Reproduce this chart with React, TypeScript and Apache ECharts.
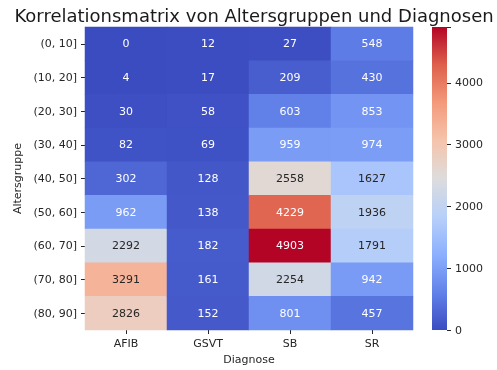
import React, { useEffect, useRef } from "react";
import * as echarts from "echarts";

const diagnoses = ["AFIB", "GSVT", "SB", "SR"];
const ageGroups = ["(0, 10]", "(10, 20]", "(20, 30]", "(30, 40]", "(40, 50]", "(50, 60]", "(60, 70]", "(70, 80]", "(80, 90]"];
const afib = [0, 4, 30, 82, 302, 962, 2292, 3291, 2826];
const gsvt = [12, 17, 58, 69, 128, 138, 182, 161, 152];
const sb = [27, 209, 603, 959, 2558, 4229, 4903, 2254, 801];
const sr = [548, 430, 853, 974, 1627, 1936, 1791, 942, 457];
const colorbarTicks = [0, 1000, 2000, 3000, 4000];
const vmin = 0;
const vmax = 4903;

const coolwarm = ["#3b4cc0", "#6282ea", "#8db0fe", "#b8d0f9", "#dddcdc", "#f5c4ac", "#f49a7b", "#de604d", "#b40426"];

function hexToRgb(h: string) {
  return [parseInt(h.slice(1, 3), 16), parseInt(h.slice(3, 5), 16), parseInt(h.slice(5, 7), 16)];
}

function colorAt(v: number) {
  const t = Math.max(0, Math.min(1, (v - vmin) / (vmax - vmin)));
  const pos = t * (coolwarm.length - 1);
  const i = Math.min(coolwarm.length - 2, Math.floor(pos));
  const f = pos - i;
  const a = hexToRgb(coolwarm[i]);
  const b = hexToRgb(coolwarm[i + 1]);
  return a.map((c, k) => c + (b[k] - c) * f);
}

function luminance(rgb: number[]) {
  const lin = rgb.map((c) => {
    const s = c / 255;
    return s <= 0.03928 ? s / 12.92 : Math.pow((s + 0.055) / 1.055, 2.4);
  });
  return 0.2126 * lin[0] + 0.7152 * lin[1] + 0.0722 * lin[2];
}

export default function App() {
  const ref = useRef<HTMLDivElement>(null);
  useEffect(() => {
    if (!ref.current) return;
    const chart = echarts.init(ref.current, null, { renderer: "svg" });
    const cols = [afib, gsvt, sb, sr];
    const data: any[] = [];
    cols.forEach((col, x) => {
      col.forEach((v, y) => {
        const lum = luminance(colorAt(v));
        data.push({
          value: [x, y, v],
          label: { color: lum > 0.408 ? "#262626" : "#ffffff" },
        });
      });
    });
    const font = "DejaVu Sans";
    const textColor = "#262626";
    const n = coolwarm.length - 1;
    const barStops = coolwarm.map((_, i) => ({ offset: i / n, color: coolwarm[n - i] }));
    chart.setOption({
      animation: false,
      textStyle: { fontFamily: font },
      title: {
        text: "Korrelationsmatrix von Altersgruppen und Diagnosen",
        left: 249,
        textAlign: "center",
        top: 1,
        textStyle: { fontFamily: font, fontSize: 18, fontWeight: "normal", color: "#1a1a1a" },
      },
      grid: [
        { left: 85, top: 27, width: 328, height: 303 },
        { left: 432, top: 27, width: 15, height: 303 },
      ],
      xAxis: [
        {
          type: "category",
          data: diagnoses,
          gridIndex: 0,
          name: "Diagnose",
          nameLocation: "middle",
          nameGap: 24,
          nameTextStyle: { fontFamily: font, fontSize: 11, color: textColor },
          axisLine: { show: false },
          axisTick: { show: true, alignWithLabel: true, length: 4, lineStyle: { color: textColor } },
          axisLabel: { fontFamily: font, fontSize: 11, color: textColor, margin: 8 },
          splitLine: { show: false },
        },
        {
          type: "category",
          data: [""],
          gridIndex: 1,
          axisLine: { show: false },
          axisTick: { show: false },
          axisLabel: { show: false },
          splitLine: { show: false },
        },
      ],
      yAxis: [
        {
          type: "category",
          data: ageGroups,
          inverse: true,
          gridIndex: 0,
          name: "Altersgruppe",
          nameLocation: "middle",
          nameGap: 54,
          nameTextStyle: { fontFamily: font, fontSize: 11, color: textColor },
          axisLine: { show: false },
          axisTick: { show: true, alignWithLabel: true, length: 4, lineStyle: { color: textColor } },
          axisLabel: { fontFamily: font, fontSize: 11, color: textColor, margin: 8 },
          splitLine: { show: false },
        },
        {
          type: "value",
          gridIndex: 1,
          position: "right",
          min: 0,
          max: vmax,
          interval: 1000,
          axisLine: { show: false, onZero: false },
          axisTick: { show: true, length: 4, lineStyle: { color: textColor } },
          axisLabel: {
            fontFamily: font,
            fontSize: 11,
            color: textColor,
            margin: 8,
            formatter: (v: number) => (colorbarTicks.includes(v) ? String(v) : ""),
          },
          splitLine: { show: false },
        },
      ],
      visualMap: {
        type: "continuous",
        show: false,
        min: vmin,
        max: vmax,
        dimension: 2,
        seriesIndex: 0,
        inRange: { color: coolwarm },
      },
      graphic: [
        {
          type: "rect",
          left: 432,
          top: 27,
          z: -1,
          shape: { width: 15, height: 303 },
          style: {
            fill: new echarts.graphic.LinearGradient(0, 0, 0, 1, barStops),
          },
          silent: true,
        },
      ],
      series: [
        {
          type: "heatmap",
          xAxisIndex: 0,
          yAxisIndex: 0,
          data,
          label: {
            show: true,
            fontFamily: font,
            fontSize: 11,
            formatter: (p: any) => String(p.value[2]),
          },
          itemStyle: { borderWidth: 0 },
          emphasis: { disabled: true },
        },
      ],
    });
    return () => chart.dispose();
  }, []);
  return <div ref={ref} style={{ position: "fixed", left: 0, top: 0, width: 497, height: 370 }} />;
}
